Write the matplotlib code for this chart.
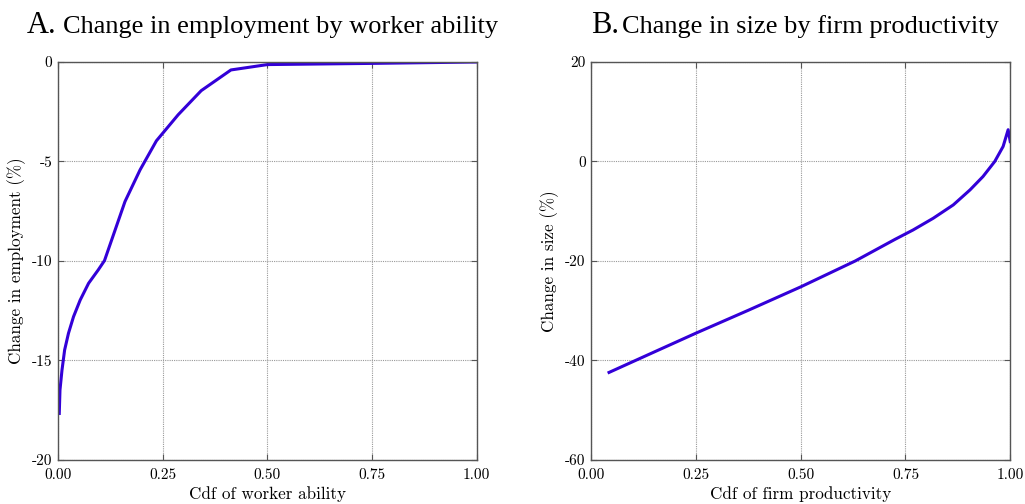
#! /usr/bin/env python3
# -*- coding: utf-8 -*-
"""two-panel figure: employment change by worker ability, size change by firm productivity"""

import matplotlib
matplotlib.use("Agg")
import matplotlib.pyplot as plt

# -----------------------------------------------------------------------------

# panel A: cdf of worker ability vs change in employment (%)
ability_cdf = [0.003, 0.0047, 0.0095, 0.0158, 0.025, 0.037, 0.053, 0.073,
               0.096, 0.111, 0.160, 0.196, 0.235, 0.287, 0.342, 0.413,
               0.500, 0.750, 1.000]
employment_chg = [-17.66, -16.48, -15.48, -14.47, -13.63, -12.80, -11.96,
                  -11.12, -10.45, -9.98, -7.01, -5.42, -3.96, -2.65, -1.44,
                  -0.40, -0.13, -0.07, 0.0]

# panel B: cdf of firm productivity vs change in size (%)
firm_cdf = [0.0425, 0.15, 0.25, 0.375, 0.50, 0.63, 0.725, 0.768, 0.816,
            0.864, 0.904, 0.935, 0.963, 0.983, 0.995, 1.000]
size_chg = [-42.4, -38.3, -34.5, -29.9, -25.2, -20.0, -15.65, -13.77,
            -11.42, -8.73, -5.71, -3.02, 0.0, 3.02, 6.39, 4.0]

x_ticks = [0.0, 0.25, 0.5, 0.75, 1.0]
x_ticklabels = ["0.00", "0.25", "0.50", "0.75", "1.00"]
yticks_a = [0, -5, -10, -15, -20]
yticks_b = [20, 0, -20, -40, -60]

# -----------------------------------------------------------------------------

LINE_COLOR = "#3300d8"
SPINE_COLOR = "#555555"
CM = "cmr10"
TITLE_FONT = "Liberation Serif"

plt.rcParams["axes.unicode_minus"] = False

fig = plt.figure(figsize=(10.25, 5.04), dpi=100)
ax_a = fig.add_axes([0.0566, 0.0873, 0.4085, 0.7897])
ax_b = fig.add_axes([0.5768, 0.0873, 0.4088, 0.7897])


def style_axes(ax, yticks, ylim, xlabel, ylabel):
    """common styling for both panels"""
    ax.set_xlim(0, 1)
    ax.set_ylim(*ylim)
    ax.set_xticks(x_ticks)
    ax.set_xticklabels(x_ticklabels, fontfamily=CM, fontsize=11)
    ax.set_yticks(yticks)
    ax.set_yticklabels([str(v) for v in yticks], fontfamily=CM, fontsize=11)
    ax.tick_params(direction="in", length=4, width=0.8, color=SPINE_COLOR,
                   top=True, right=True)
    ax.tick_params(axis="x", pad=6)
    ax.tick_params(axis="y", pad=4)
    ax.grid(True, linestyle=(0, (1, 1)), color="#999999", linewidth=0.8)
    for s in ax.spines.values():
        s.set_color(SPINE_COLOR)
        s.set_linewidth(1.0)
    ax.set_xlabel(xlabel, fontfamily=CM, fontsize=12.3, labelpad=3)
    ax.set_ylabel(ylabel, fontfamily=CM, fontsize=12.3, labelpad=4)


ax_a.plot(ability_cdf, employment_chg, color=LINE_COLOR, linewidth=2.2)
style_axes(ax_a, yticks_a, (-20, 0), "Cdf of worker ability",
           "Change in employment (%)")

ax_b.plot(firm_cdf, size_chg, color=LINE_COLOR, linewidth=2.2)
style_axes(ax_b, yticks_b, (-60, 20), "Cdf of firm productivity",
           "Change in size (%)")

# titles: bigger letter, then the text
fig.text(27 / 1025, 1 - 33 / 504, "A.", fontfamily=TITLE_FONT, fontsize=22,
         ha="left", va="baseline")
fig.text(63 / 1025, 1 - 33 / 504, "Change in employment by worker ability",
         fontfamily=TITLE_FONT, fontsize=19, ha="left", va="baseline")
fig.text(591 / 1025, 1 - 33 / 504, "B.", fontfamily=TITLE_FONT, fontsize=22,
         ha="left", va="baseline")
fig.text(622 / 1025, 1 - 33 / 504, "Change in size by firm productivity",
         fontfamily=TITLE_FONT, fontsize=19, ha="left", va="baseline")

fig.savefig("out.png", dpi=100)
